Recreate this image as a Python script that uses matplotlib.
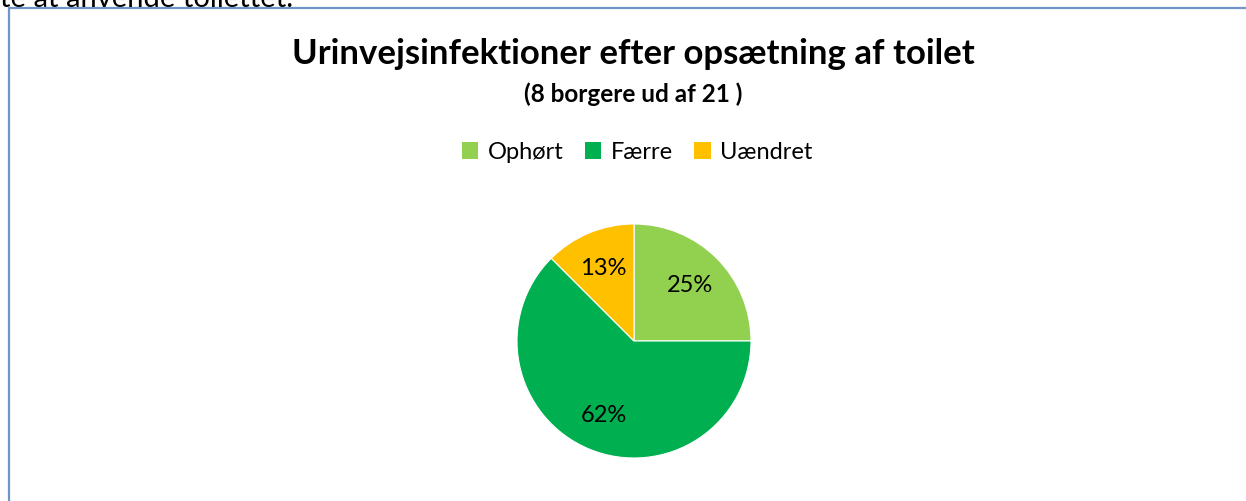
import matplotlib
matplotlib.use("Agg")
import matplotlib.pyplot as plt
import numpy as np
from matplotlib.patches import Rectangle, Patch

# DATA
categories = ["Ophørt", "Færre", "Uændret"]
counts = [2, 5, 1]
pct_labels = ["25%", "62%", "13%"]
colors = ["#92D050", "#00B050", "#FFC000"]

title = "Urinvejsinfektioner efter opsætning af toilet"
subtitle = "(8 borgere ud af 21 )"
top_text = "te at anvende toilettet."

plt.rcParams['font.family'] = ['Lato', 'DejaVu Sans']

W, H = 1246, 502
fig = plt.figure(figsize=(W / 100, H / 100), dpi=100)
fig.patch.set_facecolor("white")

# tekst skåret af over diagrammet
fig.text(0 / W, 1 - 7 / H, top_text, fontsize=21, color="black",
         ha="left", va="baseline")

# ramme
fig.patches.append(Rectangle((9 / W, -0.1), 1.2, 1 - 9 / H + 0.1,
                             transform=fig.transFigure, fill=False,
                             edgecolor="#6F95C8", linewidth=1.6))

fig.text(633 / W, 1 - 54 / H, title, fontsize=25, fontweight="bold",
         ha="center", va="center")
fig.text(633 / W, 1 - 94 / H, subtitle, fontsize=17.5, fontweight="bold",
         ha="center", va="center")

# pie
ax = fig.add_axes([517 / W, 1 - 459 / H, 234 / W, 234 / H])
wedges, texts = ax.pie(counts, colors=colors, startangle=90, counterclock=False,
                       wedgeprops=dict(linewidth=0.8, edgecolor="white"))
for w, lab in zip(wedges, pct_labels):
    ang = np.deg2rad((w.theta1 + w.theta2) / 2)
    ax.text(0.68 * np.cos(ang), 0.68 * np.sin(ang), lab, ha="center",
            va="center", fontsize=17)
ax.set_xlim(-1, 1)
ax.set_ylim(-1, 1)
ax.set_aspect("equal")
ax.axis("off")

handles = [Patch(facecolor=c, edgecolor="none") for c in colors]
fig.legend(handles, categories, loc="center", bbox_to_anchor=(637 / W, 1 - 153 / H),
           ncol=3, frameon=False, fontsize=17, handlelength=0.7, handleheight=0.7,
           handletextpad=0.4, columnspacing=0.9)

plt.savefig("out.png", dpi=100)
